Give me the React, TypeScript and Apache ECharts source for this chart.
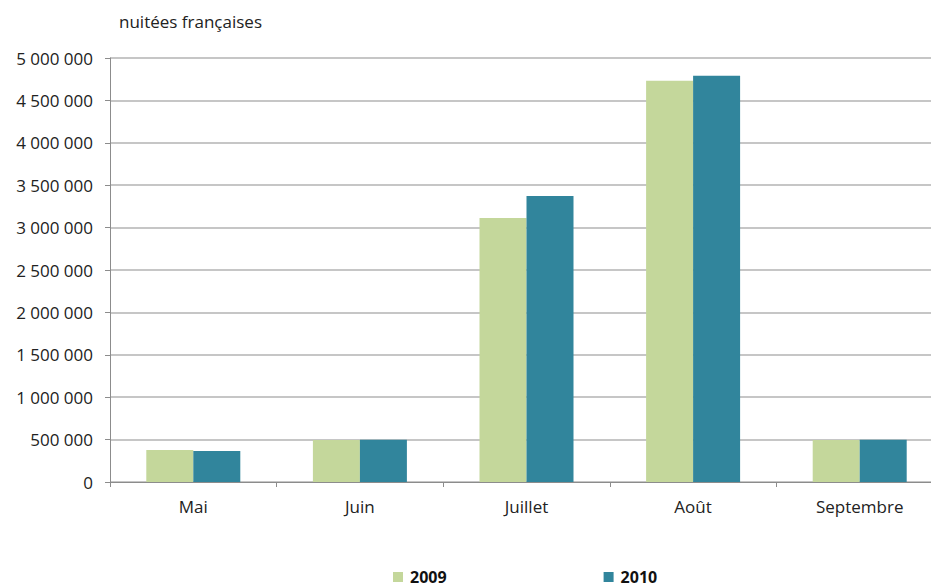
import React, { useEffect, useRef } from "react";
import * as echarts from "echarts";

const categories = ["Mai", "Juin", "Juillet", "Août", "Septembre"];
const series2009 = [377000, 495000, 3113000, 4732000, 495000];
const series2010 = [366000, 497000, 3373000, 4791000, 497000];
const seriesNames = ["2009", "2010"];
const colors = ["#c4d79b", "#31859c"];
const titleText = "nuitées françaises";

const fmt = (v: number) => String(v).replace(/\B(?=(\d{3})+(?!\d))/g, " ");

export default function App() {
  const ref = useRef<HTMLDivElement>(null);
  useEffect(() => {
    const chart = echarts.init(ref.current!, null, { renderer: "svg" });
    const font = "'Open Sans', 'Noto Sans', sans-serif";
    chart.setOption({
      animation: false,
      textStyle: { fontFamily: font },
      title: {
        text: titleText,
        left: 119,
        top: 13,
        padding: 0,
        textStyle: { fontSize: 17, fontWeight: "normal", color: "#222", fontFamily: font },
      },
      legend: {
        data: seriesNames,
        bottom: -3,
        left: 388,
        itemGap: 157,
        itemWidth: 10,
        itemHeight: 10,
        icon: "rect",
        textStyle: { fontSize: 16, fontWeight: "bold", color: "#111", fontFamily: font, padding: [0, 0, 0, 2] },
      },
      grid: { left: 110, top: 58, width: 833, height: 424, containLabel: false },
      xAxis: {
        type: "category",
        data: categories,
        axisLine: { lineStyle: { color: "#8c8c8c", width: 1 } },
        axisTick: { show: true, length: 5, lineStyle: { color: "#8c8c8c" } },
        axisLabel: { fontSize: 17, color: "#222", margin: 16, fontFamily: font },
      },
      yAxis: {
        type: "value",
        min: 0,
        max: 5000000,
        interval: 500000,
        axisLine: { show: true, lineStyle: { color: "#8c8c8c", width: 1 } },
        axisTick: { show: true, length: 5, lineStyle: { color: "#8c8c8c" } },
        splitLine: { lineStyle: { color: "#b3b3b3", width: 1.5 } },
        axisLabel: { fontSize: 17, color: "#222", margin: 17, formatter: (v: number) => fmt(v), fontFamily: font },
      },
      series: [
        {
          name: seriesNames[0],
          type: "bar",
          data: series2009,
          barWidth: 47,
          barGap: "0%",
          itemStyle: { color: colors[0] },
        },
        {
          name: seriesNames[1],
          type: "bar",
          data: series2010,
          barWidth: 47,
          barGap: "0%",
          itemStyle: { color: colors[1] },
        },
      ],
    });
    return () => chart.dispose();
  }, []);
  return (
    <div style={{ width: 931, height: 587, position: "absolute", left: 0, top: 0, overflow: "hidden" }}>
      <div ref={ref} style={{ width: 960, height: 587, position: "absolute", left: 0, top: 0 }} />
    </div>
  );
}
